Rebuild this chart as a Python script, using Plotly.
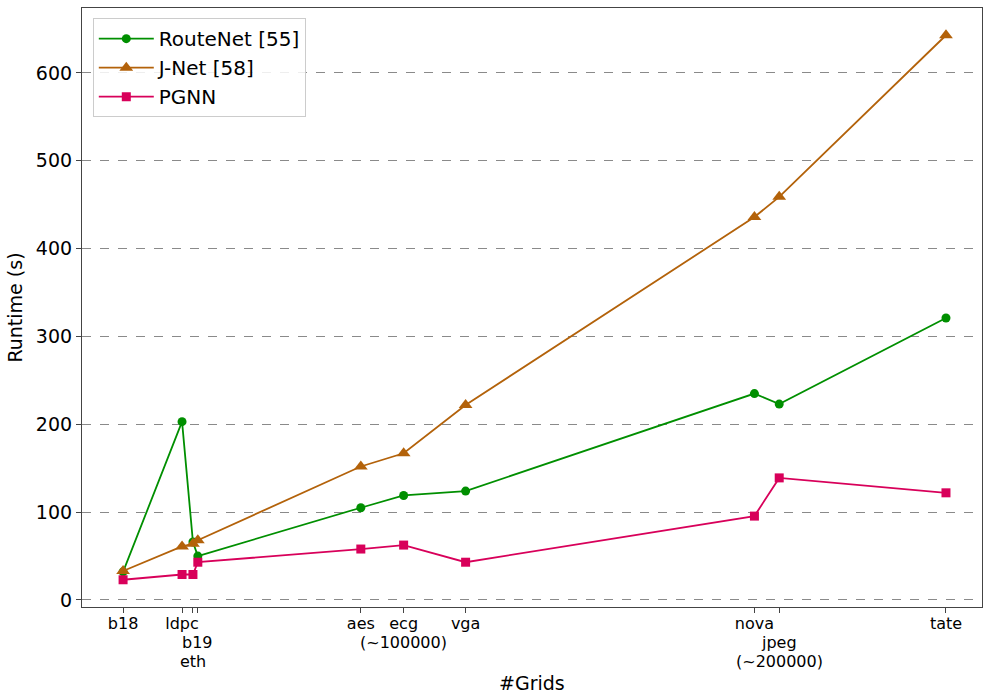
import plotly.graph_objects as go

# Benchmark designs and their approximate grid counts
designs = ["b18", "ldpc", "eth", "b19", "aes", "ecg", "vga", "nova", "jpeg", "tate"]
grids = [25300, 41000, 43900, 45200, 88600, 100000, 116500, 193400, 200000, 244400]
# first text row under each tick
tick_text = ["b18", "ldpc", "", "", "aes", "ecg", "vga", "nova", "", "tate"]
# additional rows (x position, row index, text) for crowded / annotated ticks
extra_rows = [
    (45200, 1, "b19"),
    (43900, 2, "eth"),
    (100000, 1, "(~100000)"),
    (200000, 1, "jpeg"),
    (200000, 2, "(~200000)"),
]

# Runtime in seconds per design
routenet = [32, 203, 66, 50, 105, 119, 124, 235, 223, 321]
jnet = [33, 61, 64, 68, 152, 167, 222, 436, 459, 643]
pgnn = [23, 29, 29, 43, 58, 62.5, 43, 95.5, 139, 122]

y_ticks = [0, 100, 200, 300, 400, 500, 600]

FONT = "DejaVu Sans"
PLOT_TOP, PLOT_BOTTOM = 8, 607          # pixel rows of the plotting area
PLOT_H = PLOT_BOTTOM - PLOT_TOP

fig = go.Figure()
series = [
    ("RouteNet [55]", routenet, "#008f00", "circle", 9),
    ("J-Net [58]", jnet, "#b3620a", "triangle-up", 12),
    ("PGNN", pgnn, "#d8005a", "square", 9),
]
for name, vals, color, symbol, size in series:
    fig.add_trace(go.Scatter(
        x=grids, y=vals, name=name, mode="lines+markers",
        line=dict(color=color, width=1.8),
        marker=dict(symbol=symbol, size=size, color=color),
    ))

# stacked tick-label rows below the first one
for xv, row, txt in extra_rows:
    ypix = 624 + 18.5 * row
    fig.add_annotation(
        x=xv, xref="x", y=(PLOT_BOTTOM - ypix) / PLOT_H, yref="paper",
        text=txt, showarrow=False, xanchor="center", yanchor="middle",
        borderpad=0, font=dict(family=FONT, size=16, color="black"),
    )

# x-axis title
fig.add_annotation(
    x=0.5, xref="paper", y=(PLOT_BOTTOM - 683) / PLOT_H, yref="paper",
    text="#Grids", showarrow=False, xanchor="center", yanchor="middle",
    font=dict(family=FONT, size=19, color="black"),
)

fig.update_layout(
    width=983, height=695,
    margin=dict(l=82, r=1, t=PLOT_TOP, b=695 - PLOT_BOTTOM),
    plot_bgcolor="white", paper_bgcolor="white",
    font=dict(family=FONT, color="black"),
    showlegend=True,
    legend=dict(
        x=0.012, y=0.983, xanchor="left", yanchor="top",
        bgcolor="rgba(255,255,255,0.85)", bordercolor="#cccccc", borderwidth=1,
        font=dict(family=FONT, size=20), tracegroupgap=0, itemwidth=55,
    ),
)

fig.update_xaxes(
    range=[14362, 253990],
    tickmode="array", tickvals=grids, ticktext=tick_text,
    tickangle=0, automargin=False, ticklabelstandoff=-3,
    tickfont=dict(family=FONT, size=16),
    ticks="outside", ticklen=5, tickcolor="#444", tickwidth=1,
    showgrid=False, zeroline=False,
    showline=True, linecolor="#444", linewidth=1.2, mirror=True,
)
fig.update_yaxes(
    range=[-8, 674], automargin=False,
    tickmode="array", tickvals=y_ticks,
    tickfont=dict(family=FONT, size=19),
    ticks="outside", ticklen=5, tickcolor="#444", tickwidth=1,
    showgrid=True, gridcolor="#8a8a8a", griddash="dash", gridwidth=1,
    zeroline=False,
    showline=True, linecolor="#444", linewidth=1.2, mirror=True,
    title=dict(text="Runtime (s)", font=dict(family=FONT, size=19), standoff=8),
)

fig.write_html("out.html")
